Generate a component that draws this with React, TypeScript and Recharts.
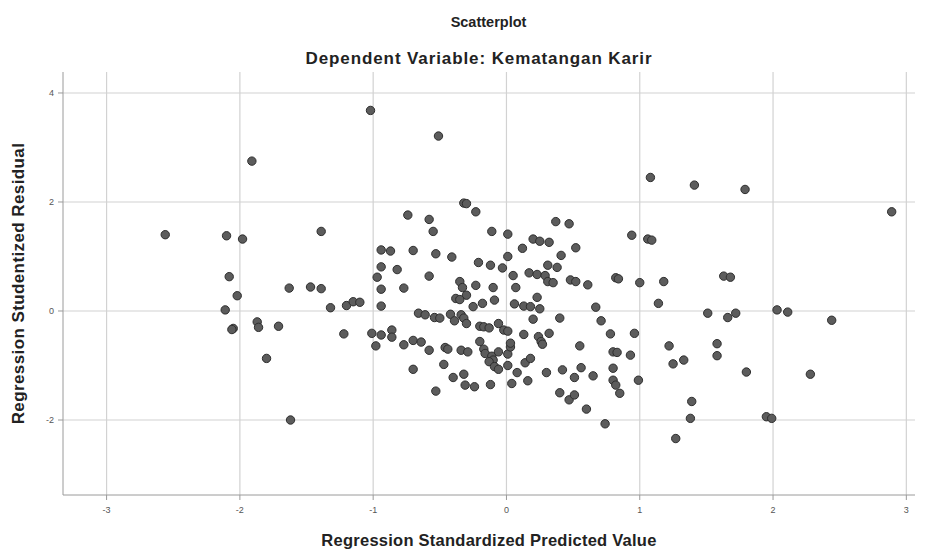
import React from "react";
import {
  ScatterChart,
  Scatter,
  XAxis,
  YAxis,
  ReferenceLine,
  Label,
} from "recharts";

// Regression Standardized Predicted Value
const predicted = [
  -1.02, -0.51, -1.91, 1.08, 1.41, 1.79, 2.89, -0.32, -0.3, -0.23, -0.74, -0.58,
  -0.55, -0.11, 0.01, 0.37, 0.47, 0.94, 1.06, 1.09, 0.2, 0.25, 0.32, 0.12, 0.52,
  -0.94, -0.87, -0.7, -0.53, -0.41, 0.01, 0.41, -2.56, -2.1, -1.98, -1.39,
  -2.08, -2.02, -2.11, -2.05, -2.06, -1.87, -1.86, -1.71, -1.63, -1.47, -1.39,
  -1.32, -1.2, -1.15, -1.1, -1.22, -1.8, -1.62,
  -0.94, -0.82, -0.58, -0.21, -0.12, -0.03, -0.97, -0.94, -0.77, -0.35, -0.33,
  -0.23, -0.1, -0.94, -0.38, -0.3, -0.35, -0.25, -0.18, -0.09, 0.05, 0.31, 0.38,
  0.17, 0.23, 0.29, 0.31, 0.35, 0.48, 0.52, 0.61, 0.82, 0.84, 1.0, 0.07, 0.23,
  0.06, 0.13, 0.18, 0.25, 0.67, 1.18, 1.14, 1.63, 1.68, 1.51, 1.66, 1.72, 2.03,
  2.11, 2.44,
  -0.66, -0.61, -0.54, -0.5, -0.42, -0.34, -0.32, -0.39, -0.3, 0.2, 0.4, 0.71,
  -1.01, -0.94, -0.86, -0.86, -0.98, -0.77, -0.7, -0.64, -0.58, -0.46, -0.44,
  -0.34, -0.29, -0.2, -0.17, -0.13, -0.06, -0.02, 0.01, 0.13, 0.24, 0.26, 0.27,
  0.32, -0.2, -0.17, -0.16, -0.11, -0.1, -0.06, 0.01, 0.03, 0.03, -0.13, -0.09,
  -0.06, 0.01, 0.14, 0.18, 0.08, 0.3, 0.42, 0.55, 0.56, 0.51, 0.65, 0.78, 0.96,
  0.8, 0.83, 0.93, 0.8, 0.8, 0.82, 0.85, 0.99, -0.47, -0.7, -0.4, -0.32, -0.31,
  -0.24, -0.12, 0.04, 0.16, -0.53, 0.4, 0.47, 0.51, 0.6, 0.74, 1.22, 1.25, 1.33,
  1.58, 1.58, 1.8, 2.28, 1.39, 1.38, 1.27, 1.95, 1.99,
];

// Regression Studentized Residual
const residual = [
  3.68, 3.21, 2.75, 2.45, 2.31, 2.23, 1.82, 1.98, 1.97, 1.82, 1.76, 1.68, 1.46,
  1.46, 1.41, 1.64, 1.6, 1.39, 1.32, 1.3, 1.32, 1.28, 1.26, 1.15, 1.16, 1.12,
  1.1, 1.11, 1.05, 0.99, 1.0, 1.02, 1.4, 1.38, 1.32, 1.46,
  0.63, 0.28, 0.02, -0.32, -0.34, -0.2, -0.3, -0.28, 0.42, 0.44, 0.41, 0.06,
  0.1, 0.17, 0.16, -0.42, -0.87, -2.0,
  0.81, 0.76, 0.64, 0.89, 0.84, 0.79, 0.62, 0.4, 0.42, 0.54, 0.43, 0.47, 0.43,
  0.09, 0.23, 0.29, 0.21, 0.08, 0.14, 0.2, 0.65, 0.84, 0.8, 0.7, 0.67, 0.65,
  0.54, 0.52, 0.57, 0.54, 0.48, 0.61, 0.59, 0.52, 0.43, 0.25, 0.13, 0.09, 0.08,
  0.04, 0.07, 0.54, 0.14, 0.64, 0.62, -0.04, -0.12, -0.04, 0.02, -0.02, -0.17,
  -0.04, -0.07, -0.12, -0.13, -0.06, -0.07, -0.13, -0.18, -0.23, -0.15, -0.13,
  -0.18, -0.41, -0.44, -0.35, -0.48, -0.64, -0.62, -0.54, -0.57, -0.72, -0.67,
  -0.7, -0.72, -0.75, -0.28, -0.29, -0.31, -0.23, -0.35, -0.37, -0.43, -0.47,
  -0.56, -0.61, -0.41, -0.56, -0.7, -0.78, -0.83, -0.9, -0.75, -0.79, -0.66,
  -0.59, -0.93, -1.02, -1.07, -1.0, -0.95, -0.87, -1.13, -1.13, -1.08, -0.64,
  -1.04, -1.22, -1.19, -0.42, -0.41, -0.75, -0.76, -0.81, -1.05, -1.27, -1.36,
  -1.51, -1.27, -0.98, -1.07, -1.22, -1.16, -1.36, -1.39, -1.35, -1.33, -1.28,
  -1.47, -1.5, -1.63, -1.54, -1.8, -2.07, -0.64, -0.97, -0.9, -0.6, -0.82,
  -1.12, -1.16, -1.66, -1.97, -2.34, -1.94, -1.97,
];

const xTicks = [-3, -2, -1, 0, 1, 2, 3];
const yTicks = [-2, 0, 2, 4];

const points = predicted.map((x, i) => ({ x, y: residual[i] }));

const FONT = "'Liberation Sans', Arial, sans-serif";
const GRID = "#d2d2d2";

const Dot = (props: any) => (
  <circle
    cx={props.cx}
    cy={props.cy}
    r={4.2}
    fill='#5c5c5c'
    stroke='#2e2e2e'
    strokeWidth={1}
  />
);

export default function App() {
  return (
    <div
      style={{
        position: "absolute",
        left: 0,
        top: 0,
        width: 943,
        height: 554,
        background: "#fff",
        fontFamily: FONT,
      }}
    >
      <div
        style={{
          position: "absolute",
          left: 0,
          width: 977,
          top: 14,
          textAlign: "center",
          fontSize: 14.5,
          fontWeight: 700,
          color: "#222",
        }}
      >
        Scatterplot
      </div>
      <div
        style={{
          position: "absolute",
          left: 0,
          width: 958,
          top: 49,
          textAlign: "center",
          fontSize: 17,
          letterSpacing: 0.9,
          fontWeight: 700,
          color: "#222",
        }}
      >
        Dependent Variable: Kematangan Karir
      </div>
      <ScatterChart
        width={943}
        height={554}
        margin={{ top: 72, right: 28, bottom: 9, left: 0 }}
      >
        {xTicks.map((t) => (
          <ReferenceLine key={"x" + t} x={t} stroke={GRID} strokeWidth={1.2} />
        ))}
        {yTicks.map((t) => (
          <ReferenceLine key={"y" + t} y={t} stroke={GRID} strokeWidth={1.2} />
        ))}
        <XAxis
          type='number'
          dataKey='x'
          domain={[-3.327, 3.065]}
          ticks={xTicks}
          allowDataOverflow
          height={50}
          stroke='#9a9a9a'
          tickSize={5}
          tickMargin={7}
          tick={{ fill: "#555", fontSize: 9, fontFamily: FONT }}
        >
          <Label
            value='Regression Standardized Predicted Value'
            position='insideBottom'
            offset={-1}
            style={{
              fontSize: 16.5,
              letterSpacing: 0.25,
              fontWeight: 700,
              fill: "#222",
              fontFamily: FONT,
            }}
          />
        </XAxis>
        <YAxis
          type='number'
          dataKey='y'
          domain={[-3.376, 4.385]}
          ticks={yTicks}
          allowDataOverflow
          width={63}
          stroke='#9a9a9a'
          tickSize={5}
          tickMargin={4}
          tick={{ fill: "#555", fontSize: 9, fontFamily: FONT }}
        >
          <Label
            value='Regression Studentized Residual'
            angle={-90}
            position='insideLeft'
            offset={18}
            style={{
              textAnchor: "middle",
              fontSize: 17,
              letterSpacing: 0.4,
              fontWeight: 700,
              fill: "#222",
              fontFamily: FONT,
            }}
          />
        </YAxis>
        <Scatter data={points} shape={Dot} isAnimationActive={false} />
      </ScatterChart>
    </div>
  );
}
